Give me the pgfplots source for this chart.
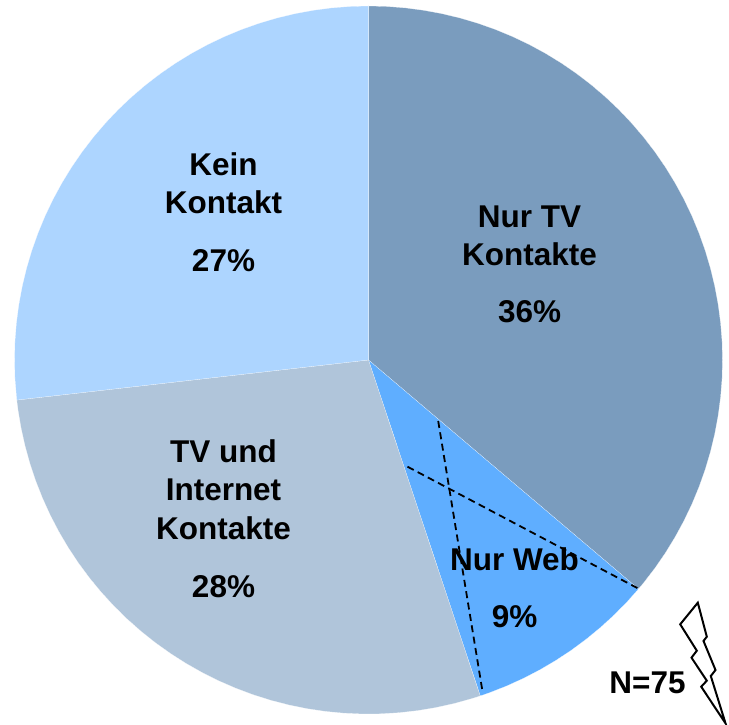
\documentclass[border=0pt]{standalone}
\usepackage{fontspec}
\setmainfont{Liberation Sans}
\usepackage{pgfplots}
\pgfplotsset{compat=1.18}
\definecolor{cTV}{HTML}{7A9CBE}
\definecolor{cWeb}{HTML}{5FAEFF}
\definecolor{cBoth}{HTML}{B0C5DA}
\definecolor{cNone}{HTML}{ADD5FF}
\newcommand{\lab}[3]{\node[anchor=base,inner sep=0pt,font=\fontsize{31.6}{33}\selectfont\bfseries] at (axis cs:#1,#2) {#3};}
\begin{document}
\begin{tikzpicture}
\begin{axis}[
  hide axis, x=1bp, y=1bp, clip=false,
  xmin=-368.5, xmax=360.5, ymin=-364, ymax=360,
]
\path (axis cs:-368.5,-364) rectangle (axis cs:360.5,360);
% Nur TV Kontakte 36%
\addplot[fill=cTV, draw=white, line width=0.1pt, data cs=polar] coordinates {
 (0,0) (90,354) (87,354) (84,354) (81,354) (78,354) (75,354) (72,354) (69,354) (66,354) (63,354)
 (60,354) (57,354) (54,354) (51,354) (48,354) (45,354) (42,354) (39,354) (36,354) (33,354)
 (30,354) (27,354) (24,354) (21,354) (18,354) (15,354) (12,354) (9,354) (6,354) (3,354)
 (0,354) (-3,354) (-6,354) (-9,354) (-12,354) (-15,354) (-18,354) (-21,354) (-24,354) (-27,354)
 (-30,354) (-33,354) (-36,354) (-39,354) (-40.3,354) } -- cycle;
% Nur Web 9%
\addplot[fill=cWeb, draw=white, line width=0.1pt, data cs=polar] coordinates {
 (0,0) (-40.3,354) (-43,354) (-46,354) (-49,354) (-52,354) (-55,354) (-58,354) (-61,354) (-64,354)
 (-67,354) (-70,354) (-71.6,354) } -- cycle;
% TV und Internet Kontakte 28%
\addplot[fill=cBoth, draw=white, line width=0.1pt, data cs=polar] coordinates {
 (0,0) (-71.6,354) (-73,354) (-76,354) (-79,354) (-82,354) (-85,354) (-88,354) (-91,354) (-94,354)
 (-97,354) (-100,354) (-103,354) (-106,354) (-109,354) (-112,354) (-115,354) (-118,354) (-121,354)
 (-124,354) (-127,354) (-130,354) (-133,354) (-136,354) (-139,354) (-142,354) (-145,354) (-148,354)
 (-151,354) (-154,354) (-157,354) (-160,354) (-163,354) (-166,354) (-169,354) (-172,354) (-173.5,354) } -- cycle;
% Kein Kontakt 27%
\addplot[fill=cNone, draw=white, line width=0.1pt, data cs=polar] coordinates {
 (0,0) (186.5,354) (183,354) (180,354) (177,354) (174,354) (171,354) (168,354) (165,354) (162,354)
 (159,354) (156,354) (153,354) (150,354) (147,354) (144,354) (141,354) (138,354) (135,354) (132,354)
 (129,354) (126,354) (123,354) (120,354) (117,354) (114,354) (111,354) (108,354) (105,354) (102,354)
 (99,354) (96,354) (93,354) (90,354) } -- cycle;
% dashed division of the web slice
\addplot[black, line width=1.8pt, dash pattern=on 7bp off 4.5bp] coordinates {(69.7,-61) (114.3,-333.3)};
\addplot[black, line width=1.8pt, dash pattern=on 7bp off 4.5bp] coordinates {(39,-106.7) (269.3,-228.3)};
% lightning
\addplot[black, line width=2pt, fill=white] coordinates {
 (329.3,-242.7) (338.3,-276.7) (335,-281) (347,-310) (342.3,-316) (357,-363.3)
 (332.7,-326.7) (338.3,-320.7) (323,-297.7) (328.3,-290.7) (311.7,-264.3) } -- cycle;
\lab{161}{132}{Nur TV}
\lab{161}{94}{Kontakte}
\lab{161}{37}{36\%}
\lab{-145}{184}{Kein}
\lab{-145}{146}{Kontakt}
\lab{-145}{88}{27\%}
\lab{-145}{-103}{TV und}
\lab{-145}{-141}{Internet}
\lab{-145}{-179}{Kontakte}
\lab{-145}{-237}{28\%}
\lab{146}{-210}{Nur Web}
\lab{146}{-267}{9\%}
\lab{279}{-333}{N=75}
\end{axis}
\end{tikzpicture}
\end{document}
